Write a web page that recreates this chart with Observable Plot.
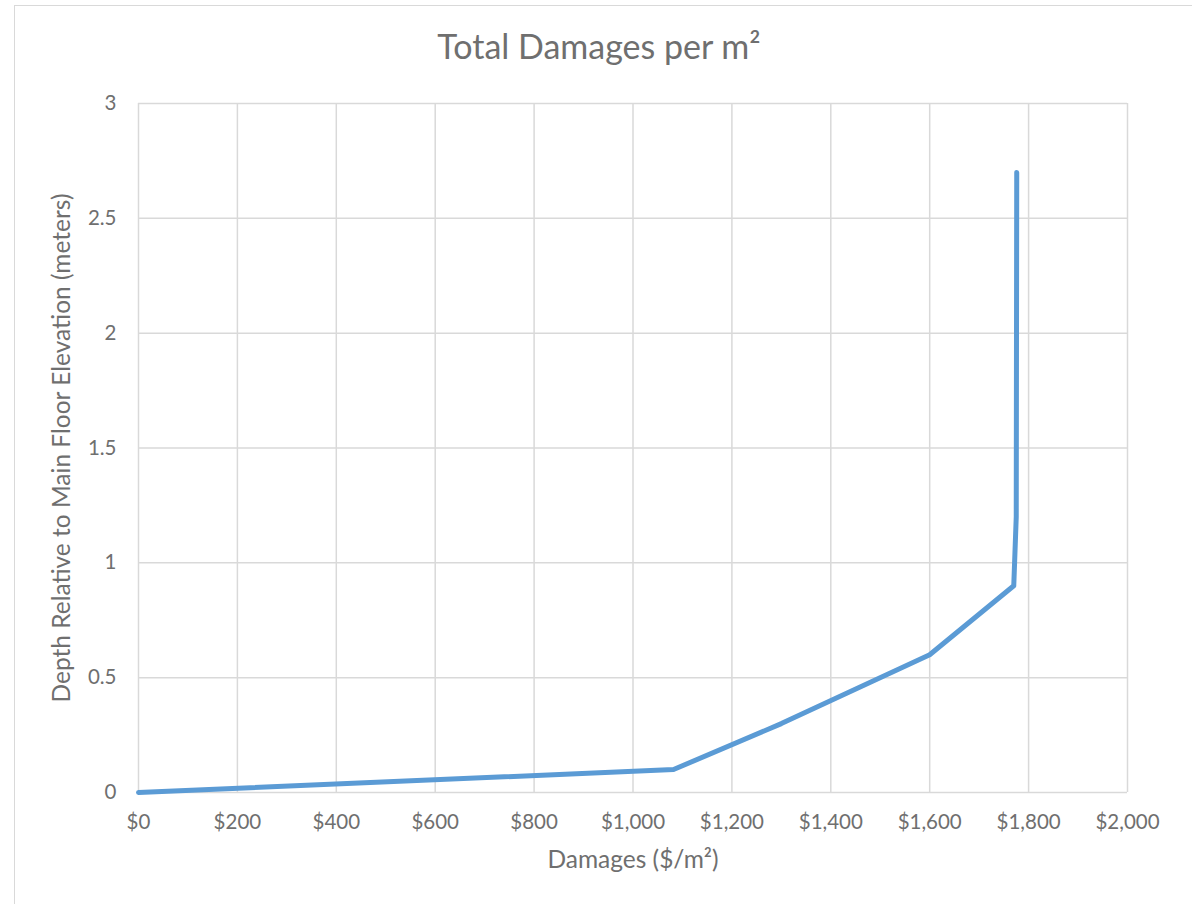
<!DOCTYPE html>
<html>
<head>
<meta charset="utf-8">
<script src="https://cdn.jsdelivr.net/npm/d3@7"></script>
<script src="https://cdn.jsdelivr.net/npm/@observablehq/plot@0.6"></script>
<style>
  html, body { margin: 0; padding: 0; background: #fff; }
  #wrap { position: relative; width: 1192px; height: 904px; overflow: hidden; }
  #border { position: absolute; left: 14px; top: 5px; width: 1200px; height: 1000px; border: 1px solid #d9d9d9; box-sizing: border-box; }
  #chart { position: absolute; left: 0; top: 0; }
</style>
</head>
<body>
<div id="wrap"><div id="border"></div><div id="chart"></div></div>
<script>
const damages = [0, 1082, 1300, 1600, 1770, 1775, 1776];
const depth = [0, 0.1, 0.3, 0.6, 0.9, 1.2, 2.7];
const xTicks = [0, 200, 400, 600, 800, 1000, 1200, 1400, 1600, 1800, 2000];
const yTicks = [0, 0.5, 1, 1.5, 2, 2.5, 3];
const title = "Total Damages per m²";
const xLabel = "Damages ($/m²)";
const yLabel = "Depth Relative to Main Floor Elevation (meters)";

const data = damages.map((d, i) => ({x: d, y: depth[i]}));
const font = "Lato, 'Open Sans', sans-serif";
const grey = "#6f6f6f";

const chart = Plot.plot({
  width: 1192,
  height: 904,
  marginLeft: 138,
  marginRight: 65,
  marginTop: 103,
  marginBottom: 112,
  style: {fontFamily: font, color: grey, background: "transparent"},
  x: {domain: [0, 2000]},
  y: {domain: [0, 3]},
  marks: [
    Plot.gridX(xTicks, {stroke: "#d9d9d9", strokeOpacity: 1, strokeWidth: 1.5}),
    Plot.gridY(yTicks, {stroke: "#d9d9d9", strokeOpacity: 1, strokeWidth: 1.5}),
    Plot.line(data, {x: "x", y: "y", stroke: "#5b9bd5", strokeWidth: 5, strokeLinejoin: "round", strokeLinecap: "round"}),
    Plot.axisX(xTicks, {tickSize: 0, tickPadding: 22, fontSize: 20.5, fill: grey, tickFormat: d => "$" + d3.format(",")(d), label: null}),
    Plot.axisY(yTicks, {tickSize: 0, tickPadding: 22, fontSize: 20.5, fill: grey, tickFormat: d => String(d), label: null}),
    Plot.text([xLabel], {frameAnchor: "bottom", lineAnchor: "middle", textAnchor: "middle", dy: 68, text: d => d, fontSize: 24.5, fill: grey}),
    Plot.text([yLabel], {frameAnchor: "left", lineAnchor: "middle", textAnchor: "middle", dx: -76, rotate: -90, text: d => d, fontSize: 24.5, fill: grey}),
    Plot.text([title], {frameAnchor: "top", lineAnchor: "middle", textAnchor: "middle", dx: -34, dy: -55, text: d => d, fontSize: 34, fill: grey})
  ]
});
document.getElementById("chart").appendChild(chart);
</script>
</body>
</html>
